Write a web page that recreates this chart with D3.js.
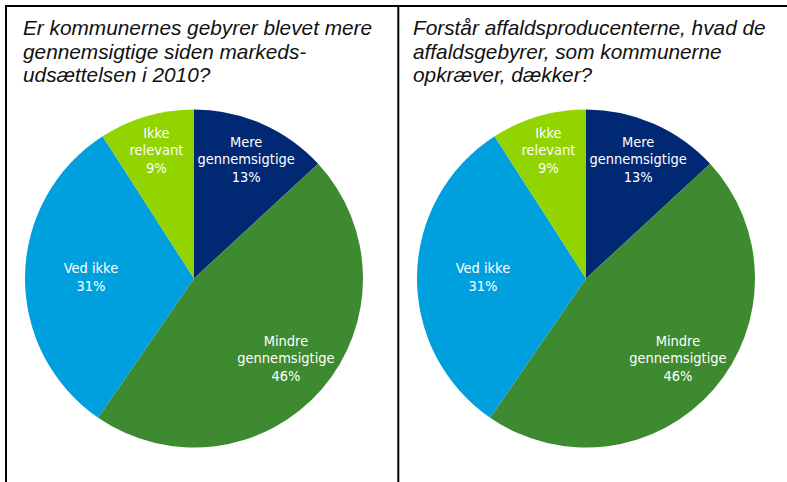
<!DOCTYPE html>
<html><head><meta charset="utf-8">
<script src="https://cdn.jsdelivr.net/npm/d3@7"></script>
<style>html,body{margin:0;padding:0;background:#fff}svg{display:block}</style>
</head><body>
<svg id="chart" width="787" height="482"></svg>
<script>
// ---- data ----
const categories = ["Mere gennemsigtige", "Mindre gennemsigtige", "Ved ikke", "Ikke relevant"];
const labelLines = [["Mere", "gennemsigtige"], ["Mindre", "gennemsigtige"], ["Ved ikke"], ["Ikke", "relevant"]];
const valuesLeft = [13, 46, 31, 9];
const valuesRight = [13, 46, 31, 9];
const titleLeft = ["Er kommunernes gebyrer blevet mere", "gennemsigtige siden markeds-", "udsættelsen i 2010?"];
const titleRight = ["Forstår affaldsproducenterne, hvad de", "affaldsgebyrer, som kommunerne", "opkræver, dækker?"];

// ---- layout / style ----
const colors = ["#002873", "#3e8a31", "#00a0df", "#92d400"];
const labelRadiusFactor = [0.77, 0.72, 0.61, 0.79];
const R = 169;
const panels = [
  {cx: 194, cy: 278.5, tx: 23, values: valuesLeft, title: titleLeft},
  {cx: 586, cy: 278.5, tx: 413, values: valuesRight, title: titleRight}
];

const svg = d3.select("#chart");
// frame lines
const lineAttr = sel => sel.attr("stroke", "#000").attr("stroke-width", 2);
svg.append("line").attr("x1", 5).attr("x2", 787).attr("y1", 6).attr("y2", 6).call(lineAttr);
svg.append("line").attr("x1", 6).attr("x2", 6).attr("y1", 5).attr("y2", 482).call(lineAttr);
svg.append("line").attr("x1", 398.3).attr("x2", 398.3).attr("y1", 5).attr("y2", 482).call(lineAttr);

const pie = d3.pie().sort(null).value(d => d);
const arc = d3.arc().innerRadius(0).outerRadius(R);

panels.forEach(p => {
  // title
  const t = svg.append("text")
    .attr("font-family", "'Liberation Sans', Arial, sans-serif")
    .attr("font-style", "italic").attr("font-size", 20.8).attr("fill", "#111");
  p.title.forEach((line, i) => {
    t.append("tspan").attr("x", p.tx).attr("y", 35 + i * 23.5).text(line);
  });

  const g = svg.append("g").attr("transform", `translate(${p.cx},${p.cy})`);
  const arcs = pie(p.values);
  g.selectAll("path").data(arcs).join("path")
    .attr("d", arc).attr("fill", (d, i) => colors[i]);

  arcs.forEach((d, i) => {
    const lr = R * labelRadiusFactor[i];
    const c = d3.arc().innerRadius(lr).outerRadius(lr).centroid(d);
    const lines = labelLines[i].concat([Math.round(p.values[i]) + "%"]);
    const lh = 17.5;
    const mid = (lines.length - 1) / 2;
    const txt = g.append("text")
      .attr("font-family", "'DejaVu Sans Condensed', 'DejaVu Sans', sans-serif")
      .attr("font-size", 14.5).attr("fill", "#fff").attr("text-anchor", "middle");
    lines.forEach((ln, j) => {
      txt.append("tspan").attr("x", c[0]).attr("y", c[1] + (j - mid) * lh + 5).text(ln);
    });
  });
});
</script>
</body></html>
